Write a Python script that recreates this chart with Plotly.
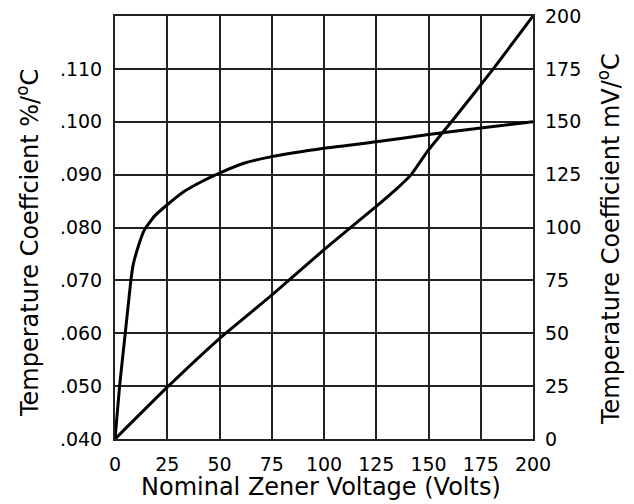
import plotly.graph_objects as go

# Curve 1: temperature coefficient in %/°C (left axis)
volts_pct = [0, 2.2, 4.9, 7.6, 8.6, 11.2, 14, 19, 25, 33, 42, 50, 62, 75, 100, 125, 150, 175, 200]
coef_pct = [0.040, 0.050, 0.060, 0.070, 0.0728, 0.0765, 0.0795, 0.0822, 0.0843, 0.0868,
            0.0888, 0.0903, 0.0922, 0.0934, 0.0950, 0.0962, 0.0976, 0.0988, 0.1000]

# Curve 2: temperature coefficient in mV/°C (right axis)
volts_mv = [0, 25, 50, 75, 100, 125, 135, 141.7, 150, 161, 181, 200]
coef_mv = [0, 24.5, 47.5, 68, 89.5, 110, 118.5, 125, 136.7, 150, 175, 200]

x_ticks = [0, 25, 50, 75, 100, 125, 150, 175, 200]
left_ticks = [0.040, 0.050, 0.060, 0.070, 0.080, 0.090, 0.100, 0.110]
left_labels = [".040", ".050", ".060", ".070", ".080", ".090", ".100", ".110"]
right_ticks = [0, 25, 50, 75, 100, 125, 150, 175, 200]

FONT = "DejaVu Sans"
TICK = 19
TITLE = 24

fig = go.Figure()
fig.add_trace(go.Scatter(x=volts_pct, y=coef_pct, mode="lines",
                         line=dict(color="black", width=3, shape="spline", smoothing=0.5),
                         yaxis="y", showlegend=False))
fig.add_trace(go.Scatter(x=volts_mv, y=coef_mv, mode="lines",
                         line=dict(color="black", width=3, shape="spline", smoothing=0.4),
                         yaxis="y2", showlegend=False))

fig.update_layout(
    width=634, height=504,
    margin=dict(l=115, r=101, t=16, b=65),
    paper_bgcolor="white", plot_bgcolor="white",
    font=dict(family=FONT, color="black", size=TICK),
    xaxis=dict(range=[0, 200], tickvals=x_ticks, ticktext=[str(v) for v in x_ticks],
               showgrid=True, gridcolor="#222", gridwidth=1.6,
               showline=True, linecolor="#222", linewidth=2, mirror=True,
               zeroline=False, ticks="", automargin=False, ticklabelstandoff=7,
               tickfont=dict(size=TICK, family=FONT)),
    yaxis=dict(range=[0.040, 0.120], tickvals=left_ticks, ticktext=left_labels,
               showgrid=True, gridcolor="#222", gridwidth=1.6,
               showline=True, linecolor="#222", linewidth=2, mirror=True,
               zeroline=False, ticks="", automargin=False, ticklabelstandoff=7,
               tickfont=dict(size=TICK, family=FONT)),
    yaxis2=dict(range=[0, 200], tickvals=right_ticks, overlaying="y", side="right",
                showgrid=False, zeroline=False, showline=False, ticks="",
                automargin=False, ticklabelstandoff=11,
                tickfont=dict(size=TICK, family=FONT)),
    annotations=[
        dict(text="Temperature Coeffcient %/<sup>o</sup>C", xref="paper", yref="paper",
             x=(28 - 115) / 418, y=(439 - 243) / 423, textangle=-90, showarrow=False,
             xanchor="center", yanchor="middle", font=dict(size=TITLE, family=FONT)),
        dict(text="Temperature Coefficient mV/<sup>o</sup>C", xref="paper", yref="paper",
             x=(609 - 115) / 418, y=(439 - 239) / 423, textangle=-90, showarrow=False,
             xanchor="center", yanchor="middle", font=dict(size=TITLE, family=FONT)),
        dict(text="Nominal Zener Voltage (Volts)", xref="paper", yref="paper",
             x=(321 - 115) / 418, y=(439 - 487) / 423, showarrow=False,
             xanchor="center", yanchor="middle", font=dict(size=TITLE, family=FONT)),
    ],
)

fig.write_html("out.html", config={"displayModeBar": False},
               post_script="document.body.style.margin='0';document.body.style.overflow='hidden';")
